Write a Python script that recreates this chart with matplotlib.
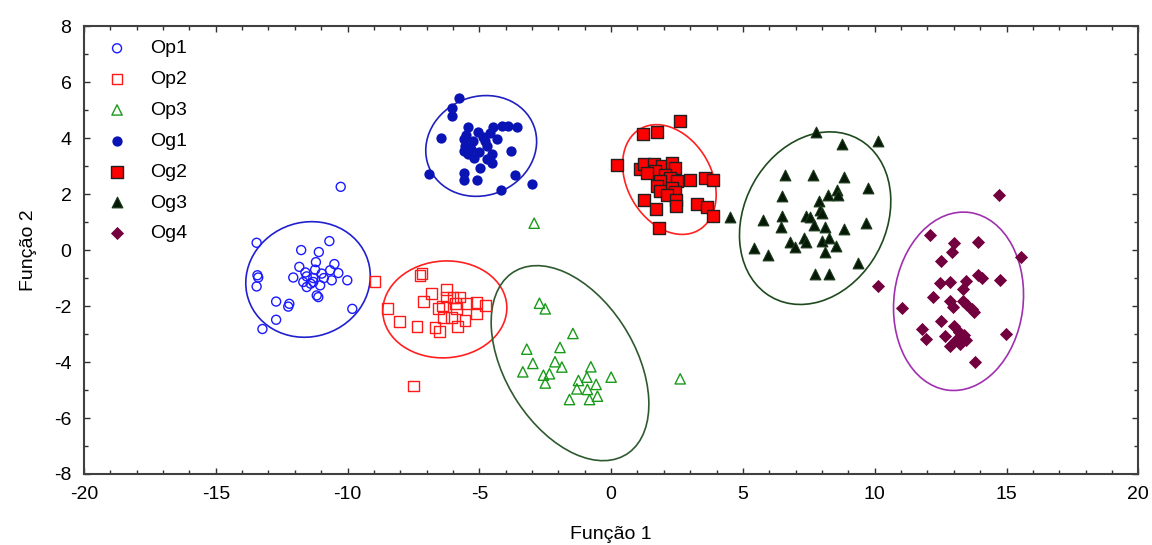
import numpy as np
import matplotlib.pyplot as plt
from matplotlib.patches import Ellipse
from matplotlib.ticker import MultipleLocator

plt.rcParams['font.family'] = ['Liberation Sans', 'DejaVu Sans']
plt.rcParams['axes.unicode_minus'] = False

# Function scores per group (Função 1, Função 2)
op1_x = [-10.26, -13.45, -10.69, -11.76, -11.09, -11.20, -11.83, -10.50, -13.42, -13.39,
         -13.45, -12.06, -11.55, -11.23, -10.98, -10.66, -10.35, -10.60, -10.01, -11.68,
         -11.55, -11.30, -11.04, -11.17, -11.11, -12.71, -12.21, -12.25, -12.71, -9.82,
         -13.23, -11.30, -11.40, -10.90, -11.60]
op1_y = [2.26, 0.26, 0.32, 0.00, -0.07, -0.43, -0.60, -0.50, -0.90, -0.98,
         -1.30, -0.98, -0.94, -0.70, -0.84, -0.72, -0.82, -1.08, -1.08, -1.14,
         -1.32, -1.14, -1.26, -1.62, -1.68, -1.84, -1.92, -2.02, -2.49, -2.10,
         -2.82, -1.00, -1.20, -1.00, -0.80]

op2_x = [-8.96, -7.25, -7.18, -8.49, -8.03, -7.37, -6.52, -5.83, -6.81, -6.26,
         -5.73, -7.12, -6.55, -6.24, -5.86, -6.36, -6.05, -5.54, -5.10, -5.10,
         -4.78, -5.48, -6.68, -7.50, -6.00, -5.90, -6.40]
op2_y = [-1.11, -0.90, -0.84, -2.10, -2.55, -2.74, -2.91, -2.74, -1.54, -1.42,
         -1.68, -1.83, -2.10, -1.68, -2.10, -2.40, -2.40, -2.52, -1.86, -2.28,
         -1.98, -1.92, -2.76, -4.86, -1.70, -1.90, -2.00]

op3_x = [-2.92, -2.72, -2.50, -1.45, -3.20, -1.94, -2.97, -2.13, -1.87, -3.35,
         -2.57, -2.34, -2.50, -0.77, -1.24, -0.92, -0.90, -1.30, -0.57, -0.52,
         -1.58, -0.82, 0.00, 2.62]
op3_y = [0.96, -1.90, -2.10, -2.98, -3.54, -3.48, -4.05, -3.99, -4.18, -4.35,
         -4.47, -4.42, -4.75, -4.17, -4.66, -4.54, -4.98, -4.96, -4.80, -5.22,
         -5.34, -5.34, -4.54, -4.60]

og1_x = [-5.79, -6.05, -6.05, -6.46, -5.42, -5.04, -4.47, -4.15, -3.90, -3.58,
         -5.60, -5.54, -5.60, -5.23, -4.85, -4.72, -4.34, -4.53, -5.42, -4.72,
         -4.53, -3.81, -4.97, -5.60, -5.60, -5.10, -3.64, -4.19, -6.90, -3.01,
         -5.30, -5.00, -4.80, -5.50, -4.60, -5.20]
og1_y = [5.44, 5.08, 4.80, 3.99, 4.39, 4.21, 4.39, 4.44, 4.44, 4.39,
         3.96, 3.72, 3.54, 3.90, 4.03, 3.72, 3.96, 3.42, 3.42, 3.24,
         3.12, 3.54, 2.94, 2.76, 2.52, 2.49, 2.70, 2.16, 2.73, 2.37,
         3.60, 3.50, 3.90, 4.10, 4.20, 3.30]

og2_x = [2.62, 1.20, 1.73, 0.22, 1.10, 1.23, 1.61, 1.92, 2.30, 2.43,
         1.67, 1.35, 2.05, 2.24, 1.86, 2.49, 3.00, 3.57, 3.88, 1.73,
         2.30, 1.86, 2.43, 2.11, 2.47, 2.47, 1.25, 1.71, 3.25, 3.63,
         3.86, 1.80]
og2_y = [4.62, 4.14, 4.23, 3.03, 2.91, 3.06, 3.06, 3.00, 3.12, 2.94,
         2.82, 2.76, 2.70, 2.58, 2.46, 2.46, 2.50, 2.58, 2.52, 2.28,
         2.22, 2.10, 2.06, 1.95, 1.80, 1.56, 1.78, 1.47, 1.65, 1.54,
         1.23, 0.78]

og3_x = [7.77, 8.76, 10.11, 6.60, 7.65, 8.84, 9.74, 6.48, 8.21, 8.56,
         8.59, 7.90, 4.52, 5.76, 6.50, 6.44, 7.40, 7.53, 7.93, 8.00,
         7.68, 8.12, 8.82, 9.68, 6.77, 6.98, 7.32, 7.40, 8.00, 8.25,
         8.54, 8.12, 5.43, 5.97, 9.36, 7.74, 8.25]
og3_y = [4.23, 3.78, 3.90, 2.67, 2.67, 2.62, 2.22, 1.92, 1.98, 2.14,
         1.98, 1.74, 1.18, 1.08, 1.23, 0.84, 1.20, 1.18, 1.42, 1.32,
         0.90, 0.84, 0.75, 0.98, 0.30, 0.12, 0.42, 0.30, 0.34, 0.42,
         0.14, -0.06, 0.06, -0.18, -0.46, -0.86, -0.84]

og4_x = [14.70, 12.08, 12.99, 13.90, 12.93, 12.51, 15.56, 10.11, 12.46, 12.87,
         13.47, 13.35, 13.90, 14.07, 14.76, 12.21, 11.03, 12.84, 12.97, 13.35,
         13.52, 13.69, 13.78, 12.51, 12.99, 11.79, 11.95, 12.67, 13.18, 13.37,
         13.47, 13.09, 13.24, 12.84, 14.99, 13.81]
og4_y = [1.98, 0.54, 0.26, 0.30, -0.06, -0.39, -0.26, -1.30, -1.18, -1.14,
         -1.11, -1.38, -0.90, -0.98, -1.06, -1.68, -2.06, -1.83, -2.02, -1.83,
         -1.98, -2.10, -2.22, -2.52, -2.70, -2.82, -3.18, -3.06, -2.94, -3.03,
         -3.22, -3.22, -3.36, -3.42, -3.00, -3.99]

# Confidence ellipses: center x, center y, width, height, angle
ell_cx = [-11.50, -6.31, -1.56, -4.93, 2.21, 7.74, 13.18]
ell_cy = [-1.05, -2.12, -4.04, 3.72, 2.52, 1.14, -1.83]
ell_w = [4.75, 4.71, 7.8, 4.25, 4.25, 6.55, 6.4]
ell_h = [4.10, 3.46, 4.85, 3.55, 3.15, 5.3, 4.9]
ell_ang = [12, 3, -55, 15, -55, 55, 82]
ell_col = ['#2020d0', '#ff2020', '#2f5a2f', '#2020c0', '#ff2020', '#1e4a1e', '#a030b0']

groups = [
    ('Op1', op1_x, op1_y, dict(marker='o', facecolors='none', edgecolors='#1a1aff', s=42, linewidths=1.0)),
    ('Op2', op2_x, op2_y, dict(marker='s', facecolors='none', edgecolors='#ff1a1a', s=60, linewidths=1.0)),
    ('Op3', op3_x, op3_y, dict(marker='^', facecolors='none', edgecolors='#1a9a1a', s=55, linewidths=1.0)),
    ('Og1', og1_x, og1_y, dict(marker='o', color='#0a14b4', s=55, linewidths=0)),
    ('Og2', og2_x, og2_y, dict(marker='s', facecolors='#ff0000', edgecolors='#202020', s=70, linewidths=1.0)),
    ('Og3', og3_x, og3_y, dict(marker='^', facecolors='#061806', edgecolors='#1a3a1a', s=60, linewidths=0.8)),
    ('Og4', og4_x, og4_y, dict(marker='D', color='#72003f', s=45, linewidths=0)),
]

fig = plt.figure(figsize=(11.52, 5.45), dpi=100)
ax = fig.add_axes([0.0729, 0.1303, 0.9152, 0.8217])

for name, x, y, style in groups:
    ax.scatter(x, y, label=name, zorder=3, **style)

for cx, cy, w, h, a, c in zip(ell_cx, ell_cy, ell_w, ell_h, ell_ang, ell_col):
    ax.add_patch(Ellipse((cx, cy), w, h, angle=a, fill=False, edgecolor=c, lw=1.2, zorder=2))

ax.set_xlim(-20, 20)
ax.set_ylim(-8, 8)
ax.xaxis.set_major_locator(MultipleLocator(5))
ax.xaxis.set_minor_locator(MultipleLocator(1))
ax.yaxis.set_major_locator(MultipleLocator(2))
ax.yaxis.set_minor_locator(MultipleLocator(1))
ax.tick_params(which='both', direction='in', top=True, right=True, color='#303030', labelsize=14)
ax.tick_params(which='major', length=4, width=1.0, pad=9)
ax.tick_params(which='minor', length=3, width=1.0)
for sp in ax.spines.values():
    sp.set_color('#404040')
    sp.set_linewidth(1.5)

ax.set_xlabel('Função 1', fontsize=14, labelpad=16)
ax.set_ylabel('Função 2', fontsize=14, labelpad=12)

ax.legend(loc='upper left', frameon=False, fontsize=14, handletextpad=0.7,
          labelspacing=0.68, borderaxespad=0.3, bbox_to_anchor=(0.0, 1.0))

fig.savefig('out.png', dpi=100)
